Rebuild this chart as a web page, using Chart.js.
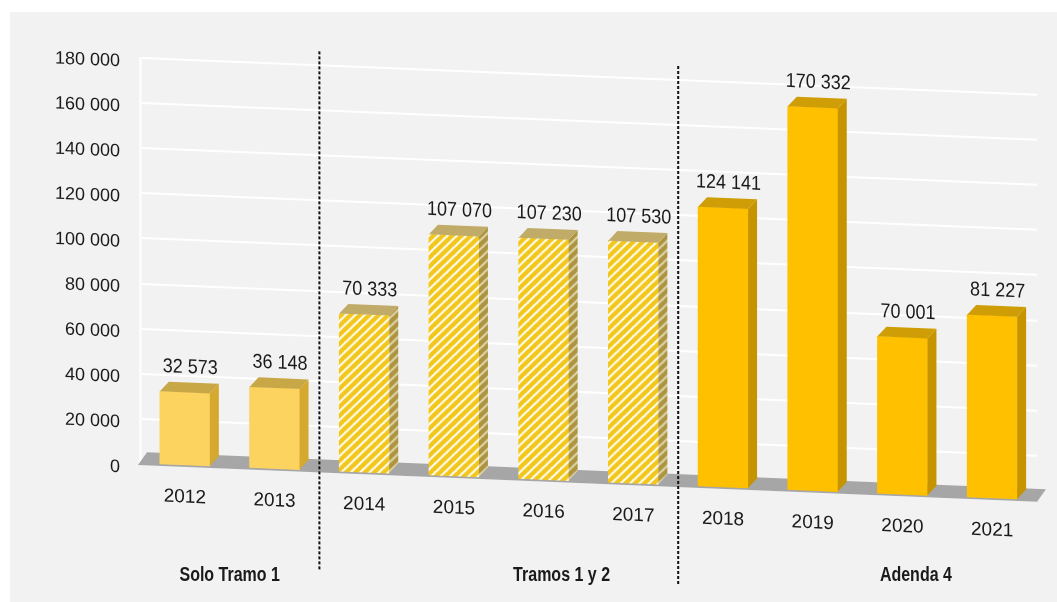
<!DOCTYPE html>
<html>
<head>
<meta charset="utf-8">
<script src="https://cdn.jsdelivr.net/npm/chart.js@4.4.1/dist/chart.umd.min.js"></script>
<style>
  html, body { margin: 0; padding: 0; background: #ffffff; }
  #wrap { position: relative; width: 1057px; height: 602px; }
</style>
</head>
<body>
<div id="wrap"><canvas id="chart" width="1057" height="602"></canvas></div>
<script>
// Datos
const years = ['2012', '2013', '2014', '2015', '2016', '2017', '2018', '2019', '2020', '2021'];
const traffic = [32573, 36148, 70333, 107070, 107230, 107530, 124141, 170332, 70001, 81227];
const periods = ['t1', 't1', 't12', 't12', 't12', 't12', 'a4', 'a4', 'a4', 'a4'];
const groupNames = ['Solo Tramo 1', 'Tramos 1 y 2', 'Adenda 4'];
const yTicks = [0, 20000, 40000, 60000, 80000, 100000, 120000, 140000, 160000, 180000];

// Perspectiva aproximada del grafico 3D original
const SKEW = 0.041;
const SKEW_X0 = 140;
const DX = 9;
const DY = 10;
const FONT = '"Liberation Sans", Arial, sans-serif';
const TEXT = '#1a1a1a';

function fmt(v) {
  return String(v).replace(/\B(?=(\d{3})+(?!\d))/g, ' ');
}

// texto algo estrecho, como en el original
function narrowText(ctx, str, x, y, font, sx) {
  ctx.save();
  ctx.translate(x, y);
  ctx.scale(sx, 1);
  ctx.font = font;
  ctx.fillStyle = TEXT;
  ctx.textAlign = 'center';
  ctx.textBaseline = 'middle';
  ctx.fillText(str, 0, 0);
  ctx.restore();
}

function stripes(bg, fg, size) {
  const c = document.createElement('canvas');
  c.width = size; c.height = size;
  const g = c.getContext('2d');
  g.fillStyle = bg;
  g.fillRect(0, 0, size, size);
  g.strokeStyle = fg;
  g.lineWidth = size * 0.48;
  g.beginPath();
  for (let k = -1; k <= 1; k++) {
    g.moveTo(k * size - 1, size + 1);
    g.lineTo(k * size + size + 1, -1);
  }
  g.stroke();
  return g.createPattern(c, 'repeat');
}

const styles = {
  t1:  { front: '#fcd35f', side: '#d5a82f', top: '#c8a846' },
  t12: { front: stripes('#fffbea', '#f2c61a', 9), side: stripes('#ddd2a6', '#ad9440', 9), top: '#c1ab68' },
  a4:  { front: '#ffc000', side: '#c69400', top: '#cf9e06' }
};

const scene = {
  id: 'scene',
  beforeDraw(chart) {
    const ctx = chart.ctx;
    ctx.save();
    ctx.fillStyle = '#f2f2f2';
    ctx.fillRect(10, 12, chart.width - 10, chart.height - 12);
    ctx.restore();
    ctx.save();
    ctx.transform(1, SKEW, 0, 1, 0, -SKEW * SKEW_X0);
  },
  beforeDatasetsDraw(chart) {
    const ctx = chart.ctx;
    const area = chart.chartArea;
    const base = chart.scales.y.getPixelForValue(0);
    ctx.save();
    ctx.fillStyle = '#a6a6a6';
    ctx.beginPath();
    ctx.moveTo(area.left - 2, base + 1);
    ctx.lineTo(area.right, base + 1);
    ctx.lineTo(area.right + DX, base - DY - 2);
    ctx.lineTo(area.left - 2 + DX, base - DY - 2);
    ctx.closePath();
    ctx.fill();
    ctx.restore();
  },
  afterDatasetsDraw(chart) {
    const ctx = chart.ctx;
    const meta = chart.getDatasetMeta(0);
    ctx.save();
    meta.data.forEach((bar, i) => {
      const { x, y, base, width } = bar.getProps(['x', 'y', 'base', 'width'], true);
      const st = styles[periods[i]];
      const l = x - width / 2, r = x + width / 2;
      ctx.fillStyle = st.side;
      ctx.beginPath();
      ctx.moveTo(r, y);
      ctx.lineTo(r + DX, y - DY);
      ctx.lineTo(r + DX, base - DY);
      ctx.lineTo(r, base);
      ctx.closePath();
      ctx.fill();
      ctx.fillStyle = st.top;
      ctx.beginPath();
      ctx.moveTo(l, y);
      ctx.lineTo(l + DX, y - DY);
      ctx.lineTo(r + DX, y - DY);
      ctx.lineTo(r, y);
      ctx.closePath();
      ctx.fill();

      narrowText(ctx, fmt(traffic[i]), x + DX / 2 + 1, y - DY - 15, '20px ' + FONT, 0.9);
    });

    // separadores punteados entre etapas
    const xs = chart.scales.x;
    ctx.strokeStyle = '#111111';
    ctx.lineWidth = 2;
    ctx.setLineDash([3, 2]);
    [1, 5].forEach(i => {
      const sx = (xs.getPixelForValue(i) + xs.getPixelForValue(i + 1)) / 2;
      ctx.beginPath();
      ctx.moveTo(sx, 44);
      ctx.lineTo(sx, 564);
      ctx.stroke();
    });
    ctx.restore();
  },
  afterDraw(chart) {
    const ctx = chart.ctx;
    ctx.restore();
    const xs = chart.scales.x;
    const at = [0.5, 4.2, 8.15];
    groupNames.forEach((name, k) => {
      narrowText(ctx, name, xs.getPixelForValue(at[k]), 575, 'bold 20px ' + FONT, 0.8);
    });
  }
};

new Chart(document.getElementById('chart'), {
  type: 'bar',
  data: {
    labels: years,
    datasets: [{
      data: traffic,
      backgroundColor: ctx => styles[periods[ctx.dataIndex]].front,
      borderWidth: 0,
      barThickness: 50
    }]
  },
  options: {
    responsive: false,
    animation: false,
    events: [],
    layout: { padding: { top: 58, right: 20, left: 0, bottom: 0 } },
    plugins: {
      legend: { display: false },
      tooltip: { enabled: false }
    },
    scales: {
      x: {
        afterFit: s => { s.height = 138; },
        grid: { display: false },
        border: { display: false },
        ticks: {
          color: TEXT,
          font: { size: 19, family: FONT },
          padding: 12,
          maxRotation: 0
        }
      },
      y: {
        min: 0,
        max: 180000,
        afterFit: s => { s.width = 140; },
        afterBuildTicks: s => { s.ticks = yTicks.map(v => ({ value: v })); },
        grid: { color: '#ffffff', lineWidth: 2, drawTicks: false },
        border: { display: true, color: '#fbfbfb', width: 3 },
        ticks: {
          color: TEXT,
          font: { size: 18, family: FONT },
          padding: 20,
          labelOffset: 4,
          callback: v => fmt(v)
        }
      }
    }
  },
  plugins: [scene]
});
</script>
</body>
</html>
